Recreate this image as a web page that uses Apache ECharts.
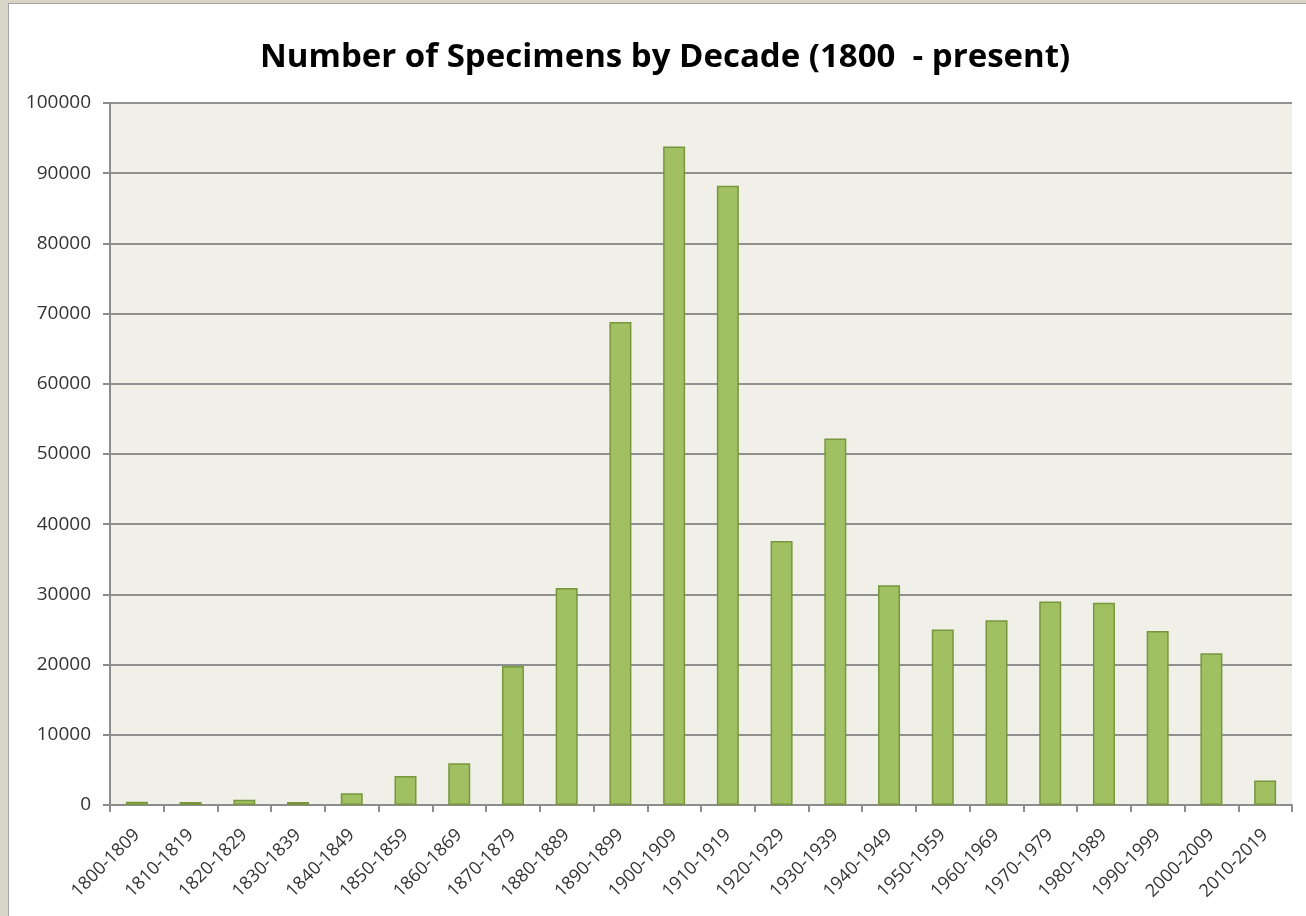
<!DOCTYPE html>
<html>
<head>
<meta charset="utf-8">
<script src="https://cdn.jsdelivr.net/npm/echarts@6/dist/echarts.min.js"></script>
<style>
html,body{margin:0;padding:0;width:1306px;height:916px;overflow:hidden;background:#d8d5c6;}
#chart{position:absolute;left:8px;top:3px;width:1297px;height:912px;border:1px solid #a3a3a3;border-right:none;border-bottom:none;background:#ffffff;}
</style>
</head>
<body>
<div id="chart"></div>
<script>
const titleText = 'Number of Specimens by Decade (1800  - present)';
const decades = ['1800-1809','1810-1819','1820-1829','1830-1839','1840-1849','1850-1859','1860-1869','1870-1879','1880-1889','1890-1899','1900-1909','1910-1919','1920-1929','1930-1939','1940-1949','1950-1959','1960-1969','1970-1979','1980-1989','1990-1999','2000-2009','2010-2019'];
const specimens = [470, 430, 750, 430, 1660, 4130, 5930, 19800, 30900, 68800, 93800, 88200, 37600, 52200, 31300, 25000, 26300, 29000, 28800, 24800, 21600, 3500];
const yMin = 0, yMax = 100000, yStep = 10000;

const chart = echarts.init(document.getElementById('chart'), null, {renderer: 'canvas'});
chart.setOption({
  animation: false,
  backgroundColor: '#ffffff',
  title: {
    text: titleText,
    left: 251,
    top: 37,
    padding: 0,
    textStyle: {fontFamily: 'Open Sans', fontWeight: 'bold', fontSize: 33, color: '#000000'}
  },
  grid: {left: 101, right: 14, top: 99, bottom: 111, show: true, backgroundColor: '#f0f0e9', borderWidth: 0},
  xAxis: {
    type: 'category',
    data: decades,
    axisLine: {lineStyle: {color: '#8c8c8c', width: 2}},
    axisTick: {show: true, length: 7, lineStyle: {color: '#8c8c8c', width: 2}},
    axisLabel: {rotate: 45, margin: 27, interval: 0, fontFamily: 'Open Sans', fontSize: 18, color: '#333333'}
  },
  yAxis: {
    type: 'value',
    min: yMin, max: yMax, interval: yStep,
    axisLine: {show: true, lineStyle: {color: '#8c8c8c', width: 2}},
    axisTick: {show: true, length: 7, lineStyle: {color: '#8c8c8c', width: 2}},
    splitLine: {lineStyle: {color: '#909090', width: 2}},
    axisLabel: {margin: 19, fontFamily: 'Open Sans', fontSize: 19, color: '#333333', formatter: function (v) { return String(v); }}
  },
  series: [{
    type: 'bar',
    data: specimens,
    barWidth: 22,
    itemStyle: {color: '#a0c062', borderColor: '#78963e', borderWidth: 1.5}
  }]
});
</script>
</body>
</html>
